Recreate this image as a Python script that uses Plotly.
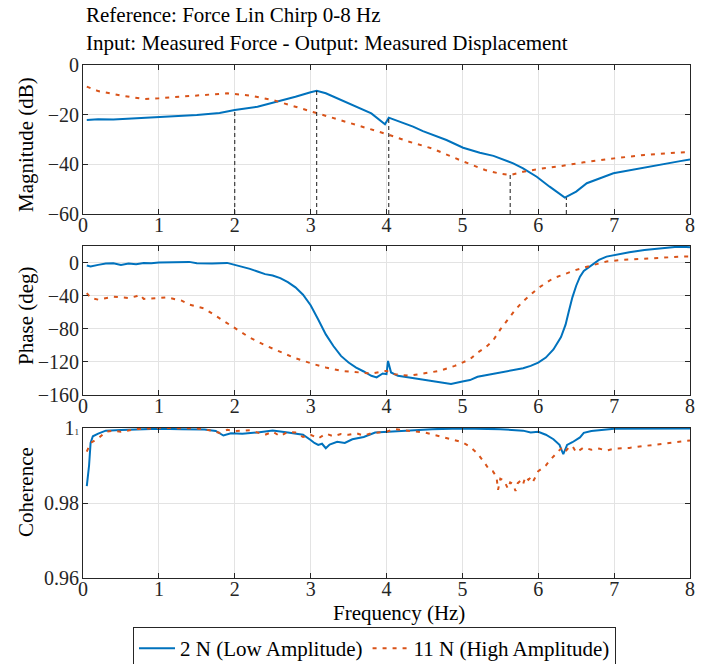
import plotly.graph_objects as go

# ---------------- data ----------------
f_mag_lo = [0.05, 0.2, 0.4, 0.6, 0.8, 1.0, 1.2, 1.5, 1.8, 2.0, 2.3, 2.6, 2.8, 3.0, 3.08, 3.2,
            3.5, 3.8, 3.98, 4.03, 4.1, 4.35, 4.48, 4.66, 4.79, 5.01, 5.23, 5.41, 5.67, 5.8,
            5.98, 6.15, 6.35, 6.5, 6.64, 6.99, 7.43, 7.87, 8.0]
mag_lo = [-22.1, -21.8, -21.9, -21.6, -21.4, -21.1, -20.7, -20.1, -19.3, -18.1, -16.8, -14.5,
          -12.8, -11.0, -10.4, -11.4, -15.4, -19.5, -23.9, -21.2, -22.0, -24.8, -26.6, -28.6,
          -30.2, -33.3, -35.3, -36.6, -39.6, -41.6, -45.0, -49.0, -53.4, -51.0, -47.6, -43.6,
          -41.0, -38.7, -38.0]

f_mag_hi = [0.05, 0.2, 0.5, 0.8, 1.0, 1.3, 1.6, 1.9, 2.2, 2.5, 2.8, 3.1, 3.4, 3.7, 4.0, 4.3,
            4.6, 5.0, 5.3, 5.5, 5.63, 5.8, 6.0, 6.3, 6.6, 7.0, 7.4, 7.8, 8.0]
mag_hi = [-8.7, -10.5, -12.3, -13.7, -13.4, -12.7, -11.8, -11.4, -12.3, -14.1, -16.8, -19.5,
          -22.2, -24.8, -27.8, -30.9, -33.6, -38.7, -42.3, -43.8, -44.3, -43.0, -41.9, -40.7,
          -39.2, -37.6, -36.2, -35.3, -35.1]

f_ph_lo = [0.05, 0.1, 0.2, 0.3, 0.4, 0.5, 0.6, 0.7, 0.8, 0.9, 1.0, 1.1, 1.2, 1.3, 1.4, 1.5,
           1.6, 1.7, 1.8, 1.9, 2.0, 2.1, 2.2, 2.3, 2.4, 2.5, 2.6, 2.7, 2.8, 2.9, 3.0, 3.1,
           3.2, 3.3, 3.4, 3.5, 3.6, 3.7, 3.8, 3.87, 3.95, 4.0, 4.02, 4.06, 4.15, 4.3, 4.5,
           4.7, 4.85, 5.0, 5.1, 5.2, 5.4, 5.6, 5.8, 5.9, 6.0, 6.1, 6.2, 6.3, 6.36, 6.4,
           6.45, 6.5, 6.55, 6.6, 6.7, 6.8, 6.9, 7.0, 7.2, 7.4, 7.6, 7.8, 7.9, 8.0]
ph_lo = [-3.6, -4.8, -2.8, -1.2, -0.8, -2.8, -1.2, -2.0, -0.4, -0.8, 0.0, 0.4, 0.8, 1.2, 0.8,
         -0.8, -1.2, -1.2, -0.8, -0.4, -2.8, -4.8, -7.6, -10.8, -14.0, -15.6, -18.8, -23.6,
         -30.0, -38.8, -51.6, -68.8, -86.8, -100.8, -112.8, -120.8, -126.8, -131.6, -136.8,
         -138.8, -134.0, -134.8, -118.8, -132.8, -136.8, -138.8, -141.6, -144.0, -146.8,
         -143.6, -142.0, -138.0, -134.8, -131.6, -127.6, -124.8, -120.8, -114.8, -105.0,
         -90.0, -75.0, -60.0, -42.0, -28.0, -17.0, -10.0, -3.0, 3.2, 7.2, 9.2, 12.4, 15.2,
         17.2, 18.8, 19.2, 18.4]

f_ph_hi = [0.05, 0.1, 0.2, 0.3, 0.4, 0.6, 0.7, 0.75, 0.8, 1.0, 1.1, 1.3, 1.4, 1.6, 1.8, 2.0,
           2.2, 2.4, 2.6, 2.8, 3.0, 3.2, 3.4, 3.6, 3.8, 4.0, 4.1, 4.3, 4.5, 4.7, 4.9, 5.0,
           5.1, 5.2, 5.3, 5.4, 5.5, 5.6, 5.7, 5.8, 5.9, 6.0, 6.1, 6.2, 6.3, 6.5, 6.7, 6.9,
           7.1, 7.3, 7.6, 7.9, 8.0]
ph_hi = [-36.8, -42.8, -44.8, -42.8, -41.2, -42.8, -40.8, -38.8, -44.0, -42.8, -42.0, -46.0,
         -50.8, -55.6, -67.6, -78.8, -90.8, -100.0, -107.6, -115.6, -121.6, -126.8, -130.8,
         -132.8, -134.0, -130.8, -134.8, -136.8, -133.6, -130.8, -124.8, -120.8, -116.8,
         -108.8, -102.8, -94.8, -80.8, -68.8, -56.8, -46.8, -38.8, -30.8, -24.8, -18.8,
         -15.6, -8.8, -3.6, 1.2, 3.2, 4.4, 6.0, 7.2, 7.2]

f_coh_lo = [0.05, 0.08, 0.1, 0.13, 0.2, 0.3, 0.5, 0.8, 1.0, 1.3, 1.6, 1.75, 1.85, 1.95, 2.1,
            2.3, 2.5, 2.7, 2.8, 2.9, 3.0, 3.05, 3.1, 3.15, 3.2, 3.25, 3.35, 3.45, 3.55, 3.7,
            3.85, 4.0, 4.3, 4.6, 5.0, 5.5, 5.8, 5.9, 6.0, 6.1, 6.2, 6.28, 6.33, 6.38, 6.45,
            6.5, 6.55, 6.6, 6.7, 7.0, 7.5, 8.0]
coh_lo = [0.9845, 0.9900, 0.9960, 0.9978, 0.9985, 0.9993, 0.9995, 0.9997, 0.9998, 0.9997,
          0.9996, 0.9992, 0.9980, 0.9986, 0.9985, 0.9988, 0.9993, 0.9988, 0.9984, 0.9982,
          0.9968, 0.9960, 0.9955, 0.9958, 0.9946, 0.9956, 0.9963, 0.9960, 0.9970, 0.9976,
          0.9988, 0.9990, 0.9995, 0.9997, 0.9999, 0.9997, 0.9993, 0.9988, 0.9990, 0.9982,
          0.9970, 0.9955, 0.9930, 0.9955, 0.9962, 0.9968, 0.9975, 0.9987, 0.9992, 0.9998,
          0.9999, 0.9999]

f_coh_hi = [0.05, 0.1, 0.2, 0.3, 0.4, 0.5, 0.7, 1.0, 1.5, 1.7, 1.8, 1.9, 2.0, 2.2, 2.4, 2.5,
            2.6, 2.7, 2.8, 2.9, 3.0, 3.1, 3.2, 3.3, 3.4, 3.5, 3.6, 3.7, 3.8, 4.0, 4.1, 4.3,
            4.5, 4.7, 4.9, 5.0, 5.1, 5.2, 5.3, 5.35, 5.4, 5.45, 5.47, 5.5, 5.55, 5.6, 5.63,
            5.67, 5.7, 5.73, 5.77, 5.8, 5.83, 5.87, 5.9, 5.93, 5.97, 6.0, 6.05, 6.1, 6.15,
            6.2, 6.25, 6.3, 6.35, 6.4, 6.45, 6.5, 6.6, 6.7, 6.8, 6.9, 7.0, 7.2, 7.4, 7.6,
            7.8, 8.0]
coh_hi = [0.9937, 0.9960, 0.9972, 0.9990, 0.9993, 0.9990, 0.9997, 1.0000, 0.9999, 0.9993,
          0.9987, 0.9995, 0.9992, 0.9994, 0.9982, 0.9990, 0.9978, 0.9990, 0.9988, 0.9976,
          0.9982, 0.9972, 0.9985, 0.9978, 0.9984, 0.9982, 0.9986, 0.9980, 0.9986, 0.9990,
          0.9997, 0.9993, 0.9988, 0.9978, 0.9967, 0.9962, 0.9950, 0.9932, 0.9905, 0.9890,
          0.9885, 0.9870, 0.9835, 0.9865, 0.9860, 0.9838, 0.9855, 0.9850, 0.9832, 0.9853,
          0.9860, 0.9850, 0.9870, 0.9862, 0.9868, 0.9857, 0.9872, 0.9885, 0.9892, 0.9900,
          0.9913, 0.9925, 0.9935, 0.9945, 0.9935, 0.9948, 0.9952, 0.9935, 0.9948, 0.9942,
          0.9945, 0.9940, 0.9945, 0.9947, 0.9952, 0.9958, 0.9963, 0.9967]

# marker lines (frequency, magnitude where the dashed guide ends)
marker_f = [2.0, 3.08, 4.03, 5.63, 6.37]
marker_top = [-18.1, -10.4, -21.5, -44.3, -53.4]
mag_floor = -60

x_ticks = [0, 1, 2, 3, 4, 5, 6, 7, 8]
mag_ticks = [-60, -40, -20, 0]
ph_ticks = [-160, -120, -80, -40, 0]
coh_ticks = [0.96, 0.98, 1.0]
coh_ticktext = ["0.96", "0.98", "1<span style='font-size:9px'>1</span>"]

title1 = "Reference: Force Lin Chirp 0-8 Hz"
title2 = "Input: Measured Force - Output: Measured Displacement"
name_lo = "2 N (Low Amplitude)"
name_hi = "11 N (High Amplitude)"

# ---------------- style ----------------
BLUE = "#0072BD"
ORANGE = "#D95319"
AX = "#262626"
GRID = "#e3e3e3"
FONT = "Liberation Serif"
W, H = 710, 664
L, R, T, B = 83, 20, 65, 86
PH = H - T - B


def py(p):
    return 1 - (p - T) / PH


def px(p):
    return (p - L) / (W - L - R)


dash_hi = "4px,6px"

fig = go.Figure()

# magnitude
fig.add_trace(go.Scatter(x=f_mag_lo, y=mag_lo, mode="lines", name=name_lo,
                         line=dict(color=BLUE, width=2), xaxis="x", yaxis="y"))
fig.add_trace(go.Scatter(x=f_mag_hi, y=mag_hi, mode="lines", name=name_hi,
                         line=dict(color=ORANGE, width=2, dash=dash_hi), xaxis="x", yaxis="y"))
mx, my = [], []
for f, t in zip(marker_f, marker_top):
    mx += [f, f, None]
    my += [mag_floor, t, None]
fig.add_trace(go.Scatter(x=mx, y=my, mode="lines", showlegend=False,
                         line=dict(color="#1a1a1a", width=1, dash="4px,3px"),
                         xaxis="x", yaxis="y"))

# phase
fig.add_trace(go.Scatter(x=f_ph_lo, y=ph_lo, mode="lines", showlegend=False,
                         line=dict(color=BLUE, width=2), xaxis="x2", yaxis="y2"))
fig.add_trace(go.Scatter(x=f_ph_hi, y=ph_hi, mode="lines", showlegend=False,
                         line=dict(color=ORANGE, width=2, dash=dash_hi), xaxis="x2", yaxis="y2"))

# coherence
fig.add_trace(go.Scatter(x=f_coh_lo, y=coh_lo, mode="lines", showlegend=False,
                         line=dict(color=BLUE, width=2), xaxis="x3", yaxis="y3"))
fig.add_trace(go.Scatter(x=f_coh_hi, y=coh_hi, mode="lines", showlegend=False,
                         line=dict(color=ORANGE, width=2, dash=dash_hi), xaxis="x3", yaxis="y3"))

axis_common = dict(showline=True, linecolor=AX, linewidth=1, mirror="ticks",
                   ticks="inside", ticklen=5, tickcolor=AX, showgrid=True,
                   gridcolor=GRID, gridwidth=1, zeroline=False,
                   tickfont=dict(family=FONT, size=20, color=AX))
xax = dict(range=[0, 8], tickvals=x_ticks, ticklabelstandoff=-7, **axis_common)
yax = dict(ticklabelstandoff=-1, **axis_common)

dom1 = [py(214), py(65)]
dom2 = [py(395), py(246)]
dom3 = [py(578), py(428)]

fig.update_layout(
    width=W, height=H,
    margin=dict(l=L, r=R, t=T, b=B, autoexpand=False),
    paper_bgcolor="white", plot_bgcolor="white",
    font=dict(family=FONT, size=20, color="black"),
    xaxis=dict(domain=[0, 1], anchor="y", **xax),
    yaxis=dict(domain=dom1, anchor="x", range=[-60, 0], tickvals=mag_ticks, **yax),
    xaxis2=dict(domain=[0, 1], anchor="y2", **xax),
    yaxis2=dict(domain=dom2, anchor="x2", range=[-160, 20], tickvals=ph_ticks, **yax),
    xaxis3=dict(domain=[0, 1], anchor="y3", **xax),
    yaxis3=dict(domain=dom3, anchor="x3", range=[0.96, 1.0], tickvals=coh_ticks,
                ticktext=coh_ticktext, **yax),
    showlegend=True,
    legend=dict(orientation="h", x=px(374.5), xanchor="center", y=py(627), yanchor="top",
                bordercolor=AX, borderwidth=1, bgcolor="white",
                font=dict(family=FONT, size=21, color="black"),
                itemwidth=36, tracegroupgap=0),
)

ann = [
    dict(text=title1, x=px(84), y=py(15), xanchor="left", yanchor="middle", size=21),
    dict(text=title2, x=px(84), y=py(43), xanchor="left", yanchor="middle", size=21),
    dict(text="Frequency (Hz)", x=px(399), y=py(613), xanchor="center", yanchor="middle", size=21),
]
for a in ann:
    fig.add_annotation(text=a["text"], x=a["x"], y=a["y"], xref="paper", yref="paper",
                       xanchor=a["xanchor"], yanchor=a["yanchor"], showarrow=False,
                       font=dict(family=FONT, size=a["size"], color="black"))

for txt, yc in [("Magnitude (dB)", 145), ("Phase (deg)", 316), ("Coherence", 492)]:
    fig.add_annotation(text=txt, x=px(26), y=py(yc), xref="paper", yref="paper",
                       xanchor="center", yanchor="middle", textangle=-90, showarrow=False,
                       font=dict(family=FONT, size=21, color="black"))

fig.write_html("out.html", config={"displayModeBar": False},
               post_script="document.body.style.margin='0px';")
